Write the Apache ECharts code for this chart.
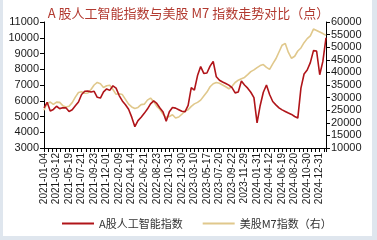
<!DOCTYPE html>
<html><head><meta charset="utf-8">
<script src="https://cdn.jsdelivr.net/npm/echarts@6/dist/echarts.min.js"></script>
<style>html,body{margin:0;padding:0;background:#dfe6ee;}#c{width:377px;height:240px;}</style>
</head><body><div id="c"></div>
<script>
// x tick labels (one per label interval)
var tickLabels = ['2021-01-04','2021-03-12','2021-05-19','2021-07-21','2021-09-23','2021-12-01','2022-02-09','2022-04-14','2022-06-21','2022-08-23','2022-10-31','2022-12-30','2023-03-10','2023-05-17','2023-07-20','2023-09-22','2023-11-29','2024-01-31','2024-04-12','2024-06-19','2024-08-20','2024-10-30','2024-12-31'];
// samples every quarter of a label interval
var step = 0.25;
var aiIndex = [5550,5900,5350,5450,5650,5500,5560,5550,5320,5430,5680,5920,6400,6600,6610,6560,6600,6220,6170,6560,6750,6660,6950,6800,6330,5990,5750,5460,4960,4350,4740,4950,5200,5470,5800,5990,5830,5540,5290,4700,5300,5570,5530,5430,5330,5300,5700,6830,6680,7600,8170,7740,7760,8200,8490,7520,7300,7190,7100,6990,6830,6500,6560,7250,7000,6800,6540,6200,4600,5700,6540,7000,6400,5950,5740,5550,5420,5320,5220,5130,5000,4900,6800,7700,7950,8420,9180,9160,7650,8500,10000];
var m7Index = [25000,27800,28200,27300,28200,28100,26800,26300,26600,28000,30200,32000,32300,31700,31800,33200,35000,36000,35500,34000,34700,34900,33200,31300,31500,31200,29300,27400,26300,25700,26100,27200,27400,29000,29800,28400,26500,25300,23400,22100,22500,23200,21900,22300,23400,24700,25200,26500,27500,28100,29000,30600,32200,34300,35500,36000,35700,35000,34300,33500,34500,36000,36900,37500,38000,39100,40300,41000,41900,42700,43100,42000,41200,43400,45400,48100,50800,51500,47900,45600,46400,48500,49700,51800,53400,54500,57200,56600,56000,55400,54700];
var seriesNames = ['A股人工智能指数','美股M7指数（右）'];
var titleText = 'A 股人工智能指数与美股 M7 指数走势对比（点）';

function pts(arr){ return arr.map(function(v,i){ return [i*step, v]; }); }
var chart = echarts.init(document.getElementById('c'), null, {renderer:'canvas'});
function axisCommon(){ return {
  axisLine:{show:true,lineStyle:{color:'#000',width:1}},
  axisTick:{show:true,inside:false,length:4,lineStyle:{color:'#000'}},
  splitLine:{show:false},
  axisLabel:{color:'#1a1a1a',fontSize:11,fontFamily:'Liberation Sans, Arial, sans-serif',margin:5,
    formatter:function(v){ return String(v); }}
}; }
chart.setOption({
  animation:false,
  backgroundColor:'#dfe6ee',
  graphic:[{type:'rect',left:3,top:0,shape:{width:369,height:236},style:{fill:'#ffffff'},z:-10}],
  title:{text:titleText,left:'center',top:2,textStyle:{color:'#b23a30',fontSize:13,fontWeight:'normal',fontFamily:'Noto Sans CJK SC, sans-serif'}},
  grid:{left:44,right:51,top:22,bottom:92,containLabel:false},
  legend:{bottom:6,left:57,itemWidth:32,itemHeight:2,itemGap:20,icon:'rect',
    textStyle:{color:'#333',fontSize:11,fontFamily:'Noto Sans CJK SC, sans-serif'},
    data:seriesNames},
  xAxis:{type:'value',min:0,max:22.5,interval:1,
    axisLine:{show:true,onZero:false,lineStyle:{color:'#000',width:1}},
    axisTick:{show:true,length:4,lineStyle:{color:'#000'}},
    minorTick:{show:true,splitNumber:3,length:4,lineStyle:{color:'#000'}},
    splitLine:{show:false},
    axisLabel:{rotate:90,fontSize:10,color:'#1a1a1a',fontFamily:'Liberation Sans, Arial, sans-serif',margin:5,
      showMaxLabel:false,
      formatter:function(v){ return (Math.abs(v-Math.round(v))<1e-6 && tickLabels[Math.round(v)]) ? tickLabels[Math.round(v)] : ''; }}
  },
  yAxis:[
    Object.assign({type:'value',min:3000,max:11000,interval:1000,position:'left'},axisCommon()),
    Object.assign({type:'value',min:10000,max:60000,interval:5000,position:'right'},axisCommon())
  ],
  series:[
    {name:seriesNames[0],type:'line',yAxisIndex:0,data:pts(aiIndex),showSymbol:false,symbol:'none',
      lineStyle:{color:'#b01419',width:1.6},itemStyle:{color:'#b01419'},z:3},
    {name:seriesNames[1],type:'line',yAxisIndex:1,data:pts(m7Index),showSymbol:false,symbol:'none',
      lineStyle:{color:'#e0c88c',width:1.6},itemStyle:{color:'#e0c88c'},z:2}
  ]
});
</script></body></html>
